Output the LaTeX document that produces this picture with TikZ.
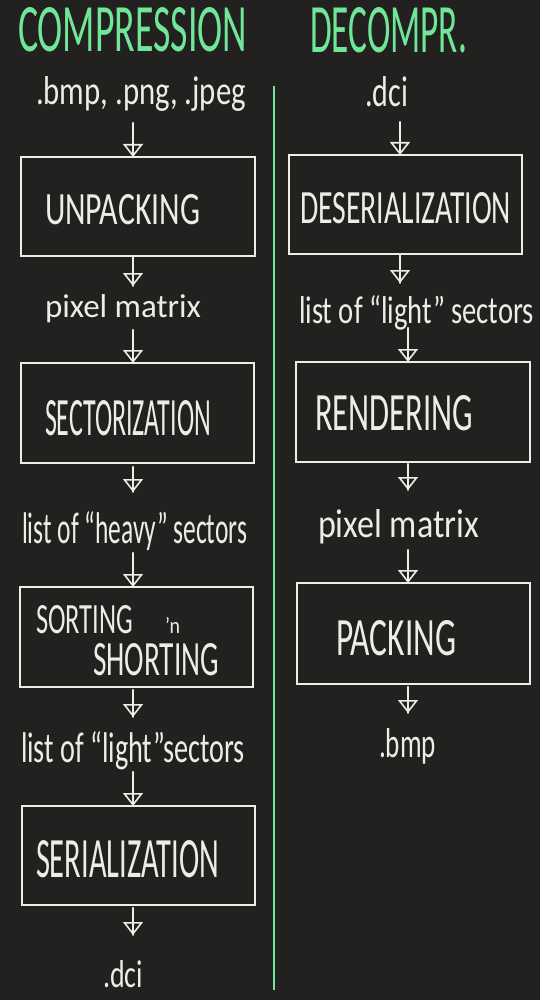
\documentclass[tikz,border=0pt]{standalone}
\usepackage{fontspec}
\setmainfont{Carlito}
\usepackage{graphicx}
\usetikzlibrary{arrows.meta}
\definecolor{bgc}{RGB}{34,33,32}
\definecolor{fgc}{RGB}{238,236,232}
\definecolor{grc}{RGB}{112,230,152}
\newcommand{\hw}[3]{\resizebox{#1pt}{#2pt}{#3}}
\begin{document}
\begin{tikzpicture}[x=1pt,y=-1pt,
  txt/.style={inner sep=0pt, outer sep=0pt, anchor=base west, text=fgc},
  head/.style={inner sep=0pt, outer sep=0pt, anchor=base west, text=grc},
  stepbox/.style={draw=fgc, line width=1.7pt, inner sep=0pt, outer sep=0pt, rectangle},
  arr/.style={draw=fgc, line width=1.6pt, line cap=round,
    -{Triangle[open, width=20pt, length=13pt, line width=1.6pt]},
    postaction={draw=fgc, -}}]
\useasboundingbox (0,0) rectangle (540,1000);
\fill[bgc] (0,0) rectangle (540,1000);
% column axis coordinates
\coordinate (xl) at (133,0);
\coordinate (xra) at (400,0);
\coordinate (xrb) at (408,0);
% divider
\draw[grc, line width=2.8pt] (274,86) -- (274,990);
% headers
\node[head] (hc) at (18,52) {\hw{229}{44}{COMPRESSION}};
\node[head] (hd) at (310,53) {\hw{157}{45}{DECOMPR.}};
% left boxes
\node[stepbox, minimum width=234pt, minimum height=99pt] (bl1) at (138,206.5) {};
\node[stepbox, minimum width=233pt, minimum height=100pt] (bl2) at (137.5,413) {};
\node[stepbox, minimum width=233pt, minimum height=100pt] (bl3) at (136.5,637) {};
\node[stepbox, minimum width=233pt, minimum height=99pt] (bl4) at (138.5,855.5) {};
% right boxes
\node[stepbox, minimum width=233pt, minimum height=99pt] (br1) at (405.5,204.5) {};
\node[stepbox, minimum width=234pt, minimum height=100pt] (br2) at (413,412) {};
\node[stepbox, minimum width=233pt, minimum height=101pt] (br3) at (413.5,633.5) {};
% left texts
\node[txt] (in1) at (36,105) {\hw{210}{28}{.bmp, .png, .jpeg}};
\node[txt] (tl1) at (45,225) {\hw{155}{30}{UNPACKING}};
\node[txt] (pm1) at (45,317) {\hw{156}{23}{pixel matrix}};
\node[txt] (tl2) at (45,435) {\hw{166}{35}{SECTORIZATION}};
\node[txt] (hv1) at (22,543) {\hw{225}{32}{list of “heavy” sectors}};
\node[txt] (tl3a) at (36,633) {\hw{97}{28}{SORTING}\hspace{32pt}\hw{15}{16}{'n}};
\node[txt] (tl3b) at (93,675) {\hw{126}{32}{SHORTING}};
\node[txt] (lt1) at (21,762) {\hw{224}{31}{list of “light”sectors}};
\node[txt] (tl4) at (36,877) {\hw{183}{37}{SERIALIZATION}};
\node[txt] (out1) at (103,987) {\hw{40}{27}{.dci}};
% right texts
\node[txt] (in2) at (365,107) {\hw{43}{30}{.dci}};
\node[txt] (tr1) at (300,223) {\hw{211}{31}{DESERIALIZATION}};
\node[txt] (lt2) at (299,323) {\hw{235}{28}{list of “light” sectors}};
\node[txt] (tr2) at (315,430) {\hw{158}{35}{RENDERING}};
\node[txt] (pm2) at (318,537) {\hw{161}{28}{pixel matrix}};
\node[txt] (tr3) at (336,655) {\hw{120}{35}{PACKING}};
\node[txt] (out2) at (379,757) {\hw{57}{29}{.bmp}};
% left connectors
\draw[arr] ([yshift=-18pt]in1.base -| xl) -- (bl1.north -| xl);
\draw[arr] (bl1.south -| xl) -- ([yshift=31pt]pm1.base -| xl);
\draw[arr] ([yshift=-13pt]pm1.base -| xl) -- (bl2.north -| xl);
\draw[arr] ([yshift=-4pt]bl2.south -| xl) -- ([yshift=51pt]hv1.base -| xl);
\draw[arr] ([yshift=-10pt]hv1.base -| xl) -- (bl3.north -| xl);
\draw[arr] ([yshift=-3pt]bl3.south -| xl) -- ([yshift=45pt]lt1.base -| xl);
\draw[arr] ([yshift=-10pt]lt1.base -| xl) -- (bl4.north -| xl);
\draw[arr] ([yshift=-3pt]bl4.south -| xl) -- ([yshift=52pt]out1.base -| xl);
% right connectors
\draw[arr] ([yshift=-15pt]in2.base -| xra) -- (br1.north -| xra);
\draw[arr] (br1.south -| xra) -- ([yshift=40pt]lt2.base -| xra);
\draw[arr] ([yshift=-5pt]lt2.base -| xrb) -- (br2.north -| xrb);
\draw[arr] ([yshift=-2pt]br2.south -| xrb) -- ([yshift=47pt]pm2.base -| xrb);
\draw[arr] ([yshift=-13pt]pm2.base -| xrb) -- (br3.north -| xrb);
\draw[arr] ([yshift=-3pt]br3.south -| xrb) -- ([yshift=44pt]out2.base -| xrb);
\end{tikzpicture}
\end{document}
